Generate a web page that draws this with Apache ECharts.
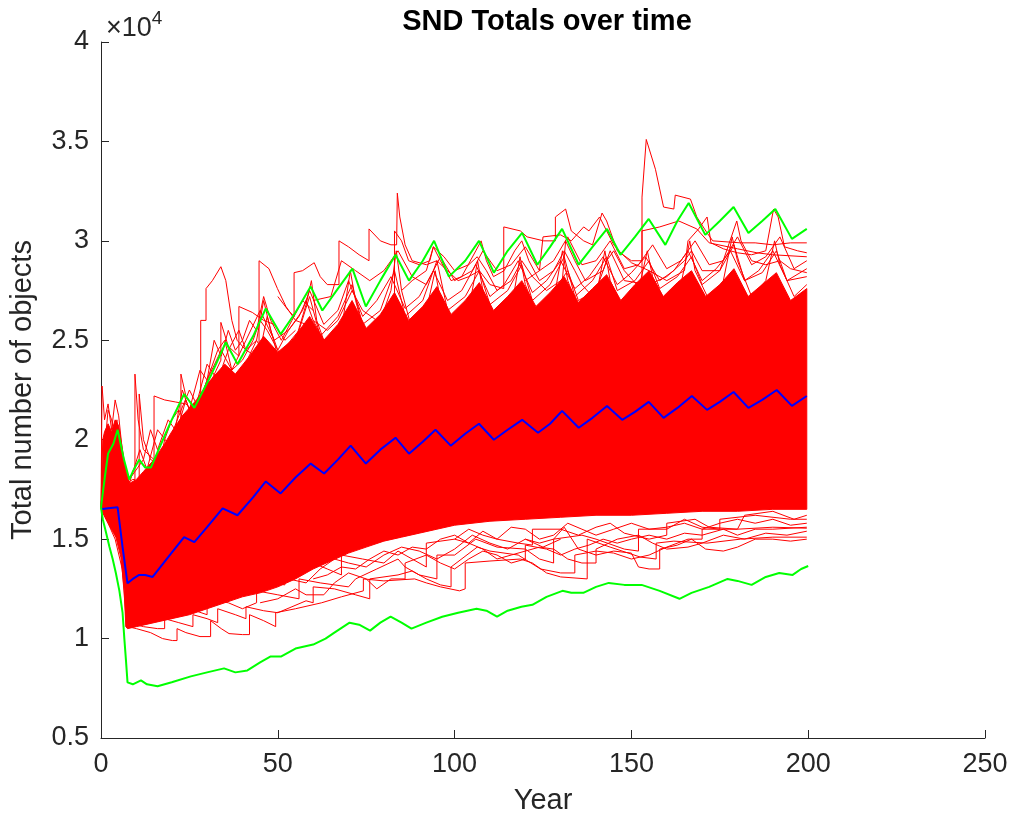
<!DOCTYPE html>
<html>
<head>
<meta charset="utf-8">
<script src="https://cdn.jsdelivr.net/npm/echarts@6/dist/echarts.min.js"></script>
<style>html,body{margin:0;padding:0;background:#fff}#c{width:1012px;height:823px}</style>
</head>
<body>
<div id="c"></div>
<script>
// values in units of 10^4 objects; x = year
const xTicks = [0, 50, 100, 150, 200, 250];
const yTicks = [0.5, 1, 1.5, 2, 2.5, 3, 3.5, 4];

const meanLine = [[0,1.65],[2,1.655],[4.7,1.66],[5.2,1.65],[6.1,1.46],[7.5,1.278],[9,1.3],[10.8,1.32],[12.5,1.32],[14.6,1.31],[19,1.41],[23.5,1.51],[26.4,1.485],[30,1.56],[34.4,1.655],[38.6,1.62],[43,1.71],[46.6,1.79],[50.8,1.73],[55,1.81],[59.3,1.88],[63.1,1.83],[67,1.9],[70.6,1.97],[74.9,1.88],[79,1.95],[83.3,2.01],[87.1,1.93],[91,1.99],[94.6,2.05],[98.9,1.97],[103,2.03],[106.9,2.08],[111.1,2.0],[115,2.05],[119.1,2.10],[123.6,2.035],[127,2.08],[130.4,2.145],[135.1,2.06],[139,2.11],[143.1,2.17],[147.4,2.10],[151,2.14],[154.9,2.19],[159.1,2.11],[163,2.16],[167.1,2.22],[171.4,2.15],[175,2.19],[178.9,2.24],[183.1,2.16],[187,2.2],[191.1,2.25],[195.4,2.17],[199.6,2.22]];

const greenUpper = [[0,1.66],[1,1.8],[2,1.93],[3.5,1.98],[4.7,2.05],[6.5,1.9],[8,1.8],[9,1.84],[10.8,1.9],[12.5,1.86],[14.1,1.86],[18,2.02],[20,2.1],[23.5,2.23],[26.4,2.16],[31,2.32],[35.3,2.49],[38.6,2.38],[43,2.52],[46.6,2.66],[50.8,2.53],[55,2.64],[59.3,2.77],[62.6,2.65],[67,2.76],[71.1,2.86],[74.9,2.67],[79,2.8],[83.3,2.93],[87.1,2.80],[91,2.9],[94.2,3.0],[98.4,2.82],[103,2.9],[106.9,3.0],[111.1,2.84],[115,2.95],[119.1,3.04],[123.4,2.88],[127,2.97],[130.4,3.06],[135.1,2.88],[139,2.97],[143.1,3.06],[146.9,2.93],[151,3.02],[154.9,3.11],[159.6,2.98],[163,3.1],[166.2,3.19],[170.9,3.03],[175,3.1],[178.9,3.17],[183.1,3.04],[187,3.1],[190.7,3.16],[195.4,3.01],[199.6,3.06]];

const greenLower = [[0,1.66],[0.5,1.6],[1.2,1.55],[2.4,1.46],[3.3,1.4],[4.2,1.33],[5.2,1.24],[6.1,1.13],[6.6,1.0],[7.06,0.89],[7.5,0.78],[9,0.77],[11.3,0.79],[13,0.77],[16,0.76],[20,0.78],[25.4,0.81],[30,0.83],[34.8,0.85],[38,0.83],[41.4,0.84],[45,0.88],[48,0.91],[51,0.91],[55,0.95],[60,0.97],[63.5,1.0],[66,1.03],[70.3,1.08],[73,1.07],[76.1,1.04],[79,1.08],[81.9,1.11],[85,1.08],[87.8,1.05],[92,1.08],[96.5,1.11],[101,1.13],[106.2,1.15],[109,1.14],[112,1.11],[115,1.14],[118.9,1.16],[122,1.17],[126,1.21],[130.5,1.24],[133,1.23],[136.4,1.23],[140,1.26],[143.6,1.28],[148,1.27],[152.9,1.27],[158,1.24],[163.6,1.20],[167,1.23],[172,1.26],[177.2,1.30],[180,1.29],[184,1.27],[188,1.31],[191.8,1.33],[195.6,1.32],[198,1.35],[200,1.365]];

// dense core of the red runs (upper and lower edge)
const redCoreTop = [[0,1.68],[0.5,2.0],[1,2.04],[2,2.08],[3,2.04],[4,2.1],[5,2.07],[6,1.96],[7,1.84],[8,1.78],[10,1.8],[12,1.84],[15,1.9],[18,1.98],[20,2.04],[23,2.12],[25,2.16],[27,2.2],[30,2.28],[33,2.34],[35,2.38],[38,2.33],[42,2.42],[46,2.52],[50,2.44],[54,2.5],[59,2.62],[63,2.5],[67,2.58],[71,2.7],[75,2.56],[79,2.63],[83,2.74],[87,2.6],[91,2.67],[95,2.77],[99,2.63],[103,2.7],[107,2.79],[111,2.65],[115,2.72],[119,2.8],[123,2.67],[127,2.74],[131,2.82],[135,2.69],[139,2.76],[143,2.83],[147,2.7],[151,2.78],[155,2.85],[159,2.72],[163,2.79],[167,2.85],[171,2.72],[175,2.78],[179,2.86],[183,2.72],[187,2.78],[191,2.84],[195,2.7],[199.6,2.76]];
const redCoreBottom = [[0,1.65],[1.4,1.6],[4.2,1.51],[5.6,1.41],[6.6,1.24],[7,1.06],[7.5,1.05],[10,1.06],[15,1.08],[20,1.1],[25,1.12],[30,1.15],[35,1.18],[40,1.21],[45,1.23],[50,1.26],[55,1.3],[60,1.35],[65,1.39],[70,1.43],[75,1.46],[80,1.49],[85,1.51],[90,1.53],[95,1.55],[100,1.57],[110,1.59],[120,1.6],[130,1.61],[140,1.62],[150,1.62],[160,1.63],[170,1.64],[180,1.64],[190,1.65],[199.6,1.65]];

// individual outlying runs
const runSpike155 = [[50,2.72],[53,2.65],[54.6,2.62],[54.6,2.84],[57,2.85],[60.3,2.89],[62,2.82],[64,2.78],[67.3,2.78],[67.3,3.0],[70,2.97],[73,2.93],[75.8,2.9],[75.8,3.06],[79,3.0],[82,2.98],[83.6,2.98],[83.8,3.24],[84.5,3.12],[86,2.98],[88,2.9],[92,2.88],[95,2.9],[98,2.85],[101,2.8],[104,2.82],[107,2.85],[110,2.78],[113.9,2.76],[113.9,3.07],[118.6,3.05],[120.5,3.02],[125.2,3.0],[128.5,3.0],[128.5,3.12],[131.4,3.16],[133,3.05],[136.5,3.0],[139,2.98],[141.7,3.14],[143,3.1],[146,2.95],[150,2.9],[153,2.9],[153,3.22],[154.2,3.51],[156.8,3.36],[159.1,3.17],[162,3.16],[162.4,3.23],[166.7,3.21],[168.5,3.12],[171.4,3.04],[173,3.0],[180.8,2.99],[185,2.99],[190,2.98],[195,2.99],[199.6,2.99]];
const runHighB = [[60,2.6],[64,2.55],[67,2.6],[71,2.75],[74,2.65],[78,2.6],[82,2.7],[83,2.7],[83,3.05],[85,3.0],[87,2.9],[90,2.88],[93,2.9],[94,2.97],[97,2.92],[100,2.85],[104,2.88],[106.4,2.92],[109,2.85],[112,2.75],[116,2.8],[119,2.9],[122,2.82],[126,2.75],[130,2.8],[132,2.85],[135,2.7],[140,2.75],[143,2.9],[145,2.95],[148,2.85],[153,2.75],[153,3.05],[158,3.07],[163.4,3.1],[168.5,3.06],[172,2.99],[180,2.96],[185.5,2.94],[190,2.93],[199.6,2.92]];
const runHighC = [[120,2.8],[124,2.85],[125,3.02],[130,3.03],[133,3.0],[136.5,3.07],[138,3.05],[141,3.12],[143,3.05],[145,2.98],[147,2.94],[150,2.89],[155,2.85],[160,2.8],[165,2.85],[166,3.0],[169,3.06],[171.4,3.12],[172.5,2.99],[176,2.96],[180,2.94],[184,2.93],[188,2.95],[190.2,3.16],[191.5,3.12],[193.3,2.97],[197,2.95],[199.6,2.94]];
const runHighD = [[130,2.7],[131.4,3.0],[134,2.9],[137,2.8],[142,2.85],[144,2.95],[148,2.8],[155,2.78],[160,2.82],[165,2.9],[167,2.95],[170,2.85],[175,2.85],[179.8,3.1],[181,3.0],[184,2.9],[188,2.88],[192,2.9],[195,2.86],[199.6,2.84]];
const runHighE = [[85,2.75],[88,2.8],[92,2.85],[94,2.97],[96,2.9],[99,2.8],[102,2.82],[106,2.95],[107.5,3.0],[109,2.9],[111,2.82],[114,2.85],[117,2.95],[119,3.0],[121,2.9],[124,2.8],[128,2.85],[131,2.95],[134,2.85],[136,2.78],[140,2.7]];
const runHighH = [[60,2.7],[65,2.72],[68,2.9],[72,2.85],[76,2.8],[80,2.85],[84,2.95],[88,2.82],[92,2.78],[96,2.92],[100,2.8],[105,2.85],[108,2.95],[112,2.85],[116,2.88],[120,2.97],[124,2.85],[128,2.9],[132,3.02],[136,2.88],[140,2.9],[144,3.0],[148,2.86],[152,2.88],[156,2.98],[160,2.86],[164,2.9],[168,3.0],[172,2.88],[176,2.9],[180,3.02],[184,2.88],[188,2.92],[192,3.02],[196,2.86],[199.6,2.9]];
const runCycleF = [[40,2.35],[44,2.5],[46,2.7],[48,2.55],[51,2.4],[55,2.5],[58,2.68],[59.5,2.8],[61,2.6],[64,2.45],[68,2.55],[70.5,2.85],[72,2.7],[75,2.5],[79,2.6],[82,2.75],[83.5,2.95],[85,2.75],[88,2.55],[92,2.65],[94.5,2.85],[96,2.7],[100,2.55],[104,2.65],[106.5,2.9],[108,2.75],[112,2.58],[116,2.65],[118.5,2.92],[120,2.78],[124,2.6],[128,2.7],[130.5,2.95],[132,2.8],[136,2.62],[140,2.72],[142.5,2.95],[144,2.8],[148,2.65],[152,2.75],[154.5,2.95],[156,2.82],[160,2.68],[164,2.78],[166.5,3.0],[168,2.85],[172,2.7],[176,2.8],[178.5,3.02],[180,2.9],[184,2.72],[188,2.8],[190.5,3.0],[192,2.88],[196,2.72],[199.6,2.78]];
const runCycleG = [[45,2.45],[47,2.62],[50,2.42],[56,2.55],[59,2.72],[62,2.52],[67,2.62],[71,2.78],[74,2.58],[79,2.65],[83,2.85],[86,2.62],[91,2.7],[95,2.9],[98,2.65],[103,2.72],[107,2.85],[110,2.68],[115,2.75],[119,2.88],[122,2.7],[127,2.78],[131,2.92],[134,2.72],[139,2.8],[143,2.92],[146,2.75],[151,2.8],[155,2.9],[158,2.76],[163,2.82],[167,2.92],[170,2.78],[175,2.85],[179,2.98],[182,2.8],[187,2.84],[191,2.95],[194,2.8],[199.6,2.82]];
const runMidJ = [[20,1.95],[24,2.2],[26,2.1],[30,2.3],[34,2.45],[37,2.35],[41,2.5],[45,2.65],[49,2.5],[53,2.55],[57,2.65],[59,2.75],[63,2.58],[67,2.65],[70,2.8],[74,2.62],[78,2.7],[82,2.82],[86,2.66],[90,2.72],[94,2.85],[98,2.7],[102,2.75],[106,2.88],[110,2.72],[114,2.78],[118,2.9],[122,2.74],[126,2.8],[130,2.9],[134,2.76],[138,2.82],[142,2.92],[146,2.78],[150,2.84],[154,2.92],[158,2.8],[162,2.85],[166,2.95],[170,2.8],[174,2.86],[178,2.95],[182,2.8],[186,2.85],[190,2.95],[194,2.8],[199.6,2.86]];
const runMidK = [[8,1.8],[12,1.9],[14,2.05],[16,1.95],[19,2.1],[21,2.05],[23,2.25],[25,2.15],[28,2.35],[30,2.3],[32,2.5],[34,2.42],[36,2.55],[38,2.45],[40,2.5],[42,2.6],[44,2.55],[46,2.72],[48,2.6],[51,2.5],[54,2.6],[57,2.7],[60,2.65]];
const runMidL = [[5,2.0],[8,1.78],[11,1.95],[13,1.85],[16,2.05],[19,1.98],[22,2.12],[25,2.25],[27,2.18],[30,2.38],[33,2.3],[36,2.45],[39,2.55],[41,2.45],[44,2.5],[47,2.4]];
const runEarlyA = [[0,1.66],[0.3,2.27],[1,2.1],[2,2.18],[3,2.05],[4,2.2],[5,2.12],[6,1.95],[7,1.82],[8,1.75],[10.8,1.75],[10.8,2.23],[12,2.0],[14,1.9],[17,1.88],[20,1.95],[22.6,2.0],[22.6,2.33],[24,2.22],[27,2.15],[30,2.25],[33.9,2.4],[33.9,2.59],[36,2.47],[39,2.42],[39,2.67],[42.8,2.64],[46,2.6],[49,2.58],[52,2.5],[55,2.55]];
const runEarlyB = [[0,1.66],[1,1.95],[2,2.15],[3,2.1],[4,2.0],[5,2.05],[7,1.78],[9,1.8],[9.6,1.8],[9.6,2.33],[10.5,2.1],[12,1.95],[15,1.9],[15,2.22],[18,2.2],[21,2.19],[24,2.18],[27.5,2.12],[28.2,2.12],[28.2,2.6],[29.7,2.6],[29.7,2.76],[31.5,2.8],[33.9,2.87],[35.3,2.8],[37,2.6],[38.5,2.5],[41,2.45],[44,2.42],[44.7,2.42],[44.7,2.9],[47.5,2.86],[49.9,2.76],[52.3,2.67],[55,2.6],[58,2.58],[60,2.55]];
const runEarlyC = [[0,1.66],[1.5,2.05],[3,1.95],[4.5,2.1],[6,1.9],[8,1.7],[12,1.75],[16,1.82],[18,2.0],[20,2.1],[22,2.15],[25,2.05],[28,2.2],[31,2.35],[33,2.45],[35,2.5],[37,2.35],[40,2.4],[43,2.5],[45,2.6],[47,2.55],[50,2.45],[53,2.55],[56,2.62],[58,2.7],[60,2.6],[63,2.5]];
const runLowA = [[0,1.66],[2,1.58],[4,1.5],[6,1.35],[7,1.12],[7.5,1.06],[10,1.05],[14,1.03],[17.4,1.0],[20.2,0.99],[21.5,0.99],[21.5,1.05],[24,1.03],[28,1.01],[31,1.01],[31,1.09],[34,1.05],[36.2,1.025],[40,1.02],[42,1.02],[42,1.12],[46,1.09],[49.4,1.06],[49.4,1.13],[55,1.15],[62.4,1.18],[68,1.21],[74.2,1.24],[74.2,1.3],[80,1.29],[88.7,1.30],[92,1.28],[96,1.26],[101.4,1.24],[103,1.25],[103,1.38],[110,1.39],[118.6,1.40],[122,1.38],[126,1.33],[130,1.31],[137.5,1.30],[137.5,1.5],[144,1.46],[152.5,1.41],[157,1.40],[157,1.48],[162,1.49],[171.4,1.48],[180.8,1.5],[190,1.51],[199.6,1.51]];
const runLowB = [[7.5,1.08],[12,1.06],[16,1.05],[18,1.05],[18,1.1],[22,1.08],[26,1.06],[26,1.12],[30,1.1],[33,1.08],[33,1.15],[38,1.12],[41,1.1],[41,1.16],[46,1.14],[50,1.13],[54,1.16],[58,1.19],[60,1.18],[60,1.26],[66,1.25],[72,1.22],[76,1.2],[76,1.3],[84,1.32],[88,1.34],[92,1.3],[96,1.27],[99,1.26],[99,1.36],[106.4,1.46],[110,1.44],[118,1.42],[124.3,1.35],[130,1.33],[134,1.33],[134,1.42],[140,1.44],[145,1.43],[150,1.4],[155,1.42],[160,1.46],[166,1.5],[170,1.5],[170,1.55],[180,1.55],[190,1.56],[199.6,1.555]];
const runLowC = [[7.5,1.1],[12,1.1],[16,1.12],[20,1.1],[20,1.18],[25,1.15],[30,1.12],[30,1.2],[36,1.18],[40,1.15],[44,1.18],[44,1.24],[50,1.22],[56,1.2],[56,1.3],[62,1.28],[70,1.26],[72,1.3],[78,1.35],[84,1.4],[86,1.36],[90,1.32],[95,1.3],[95,1.42],[100,1.42],[106,1.5],[112,1.46],[120,1.45],[124,1.4],[128,1.38],[128,1.5],[136,1.52],[140,1.5],[148,1.45],[152,1.44],[152,1.55],[160,1.55],[165,1.6],[170,1.56],[175,1.55],[175,1.6],[185,1.62],[195,1.6],[199.6,1.6]];
const runLowD = [[8,1.15],[12,1.14],[15,1.15],[15,1.22],[20,1.2],[26,1.18],[26,1.26],[32,1.24],[38,1.22],[38,1.32],[44,1.3],[48,1.28],[52,1.27],[52,1.35],[60,1.38],[64,1.35],[68,1.32],[68,1.42],[74,1.4],[80,1.38],[84,1.44],[88,1.4],[92,1.36],[92,1.48],[100,1.5],[104,1.48],[108,1.54],[112,1.5],[118,1.48],[122,1.47],[122,1.55],[130,1.55],[135,1.52],[140,1.56],[144,1.58],[148,1.53],[155,1.5],[160,1.52],[160,1.58],[168,1.6],[172,1.56],[180,1.55],[182,1.62],[190,1.64],[196,1.6],[199.6,1.62]];
const runLowE = [[120,1.5],[124,1.48],[128,1.5],[131,1.56],[135,1.45],[140,1.42],[145,1.44],[150,1.43],[152,1.36],[155,1.35],[158,1.35],[158,1.45],[163,1.47],[167,1.5],[171,1.45],[176,1.44],[180,1.46],[185,1.5],[190,1.5],[195,1.49],[199.6,1.5]];
const runLowF = [[100,1.5],[104,1.55],[108,1.52],[112,1.5],[116,1.56],[120,1.55],[124,1.5],[128,1.52],[132,1.58],[136,1.55],[140,1.52],[145,1.55],[150,1.58],[155,1.55],[160,1.56],[165,1.58],[170,1.55],[175,1.58],[180,1.6],[185,1.58],[190,1.6],[195,1.57],[199.6,1.58]];
const runLowG = [[10,1.12],[15,1.1],[20,1.15],[25,1.2],[30,1.18],[35,1.25],[40,1.28],[45,1.3],[50,1.34],[53,1.3],[58,1.28],[62,1.35],[66,1.4],[70,1.38],[75,1.36],[80,1.42],[85,1.46],[90,1.44],[95,1.4],[100,1.45],[105,1.52],[110,1.48],[115,1.45],[120,1.5],[125,1.46],[130,1.5]];
const runLowH = [[45,1.18],[50,1.2],[55,1.25],[58,1.22],[63,1.22],[66,1.28],[70,1.33],[75,1.3],[78,1.25],[82,1.3],[86,1.3],[86,1.38],[92,1.42],[96,1.38],[100,1.35],[104,1.4],[108,1.44],[112,1.42],[116,1.38],[120,1.4],[120,1.47],[126,1.45],[130,1.42],[134,1.45],[138,1.47],[142,1.5],[146,1.48],[150,1.5],[155,1.52],[160,1.5],[165,1.53],[170,1.52],[176,1.55],[180,1.52],[185,1.55],[190,1.55],[199.6,1.56]];
const runLowI = [[60,1.3],[64,1.32],[68,1.36],[72,1.35],[76,1.4],[80,1.44],[84,1.42],[88,1.46],[92,1.45],[96,1.5],[100,1.52],[104,1.48],[108,1.45],[112,1.4],[116,1.42],[120,1.44],[124,1.46],[128,1.45],[132,1.4],[136,1.38],[140,1.38],[140,1.45],[146,1.5],[152,1.52],[156,1.48],[160,1.45],[166,1.46],[170,1.48],[176,1.52],[182,1.5],[188,1.53],[194,1.52],[199.6,1.54]];

const redRuns = [runSpike155, runHighB, runHighC, runHighD, runHighE, runHighH, runCycleF, runCycleG,
  runMidJ, runMidK, runMidL, runEarlyA, runEarlyB, runEarlyC,
  runLowA, runLowB, runLowC, runLowD, runLowE, runLowF, runLowG, runLowH, runLowI];

const FONT = 'Liberation Sans';
const TXT = '#262626';
const chart = echarts.init(document.getElementById('c'), null, {renderer: 'canvas'});

const series = [];
series.push({
  type: 'custom', name: 'core', silent: true, z: 1,
  data: [[0, 1]],
  renderItem: function (params, api) {
    const pts = redCoreTop.map(p => api.coord(p))
      .concat(redCoreBottom.slice().reverse().map(p => api.coord(p)));
    return {type: 'polygon', shape: {points: pts}, style: {fill: '#ff0000', stroke: '#ff0000', lineWidth: 1}};
  }
});
redRuns.forEach(function (run) {
  series.push({type: 'line', data: run, symbol: 'none', silent: true, z: 2,
    lineStyle: {color: '#ff0000', width: 1}});
});
series.push({type: 'line', data: meanLine, symbol: 'none', z: 4, lineStyle: {color: '#0000ff', width: 2}});
series.push({type: 'line', data: greenUpper, symbol: 'none', z: 4, lineStyle: {color: '#00ff00', width: 2}});
series.push({type: 'line', data: greenLower, symbol: 'none', z: 4, lineStyle: {color: '#00ff00', width: 2}});

chart.setOption({
  animation: false,
  backgroundColor: '#ffffff',
  title: [
    {text: 'SND Totals over time', left: 542, top: 2, textAlign: 'center',
     textStyle: {fontFamily: FONT, fontWeight: 'bold', fontSize: 29, color: '#000'}},
    {text: '{a|×10}{b|4}', left: 101, top: 4,
     textStyle: {fontWeight: 'normal', rich: {a: {fontFamily: FONT, fontWeight: 'normal', fontSize: 27, color: TXT, verticalAlign: 'bottom'},
                        b: {fontFamily: FONT, fontWeight: 'normal', fontSize: 19, color: TXT, verticalAlign: 'top', padding: [0,0,14,0]}}}}
  ],
  grid: {left: 100, right: 27, top: 42, bottom: 85, containLabel: false},
  xAxis: {
    type: 'value', min: xTicks[0], max: xTicks[xTicks.length - 1], interval: 50,
    name: 'Year', nameLocation: 'middle', nameGap: 48,
    nameTextStyle: {fontFamily: FONT, fontSize: 29, color: TXT},
    axisLine: {onZero: false, lineStyle: {color: TXT, width: 1}},
    axisTick: {inside: true, length: 8, lineStyle: {color: TXT}},
    axisLabel: {fontFamily: FONT, fontSize: 27, color: TXT, margin: 13},
    splitLine: {show: false}
  },
  yAxis: {
    type: 'value', min: yTicks[0], max: yTicks[yTicks.length - 1], interval: 0.5,
    name: 'Total number of objects', nameLocation: 'middle', nameGap: 64, nameRotate: 90,
    nameTextStyle: {fontFamily: FONT, fontSize: 29, color: TXT},
    axisLine: {onZero: false, lineStyle: {color: TXT, width: 1}},
    axisTick: {inside: true, length: 8, lineStyle: {color: TXT}},
    axisLabel: {fontFamily: FONT, fontSize: 27, color: TXT, margin: 12},
    splitLine: {show: false}
  },
  series: series
});
</script>
</body>
</html>
